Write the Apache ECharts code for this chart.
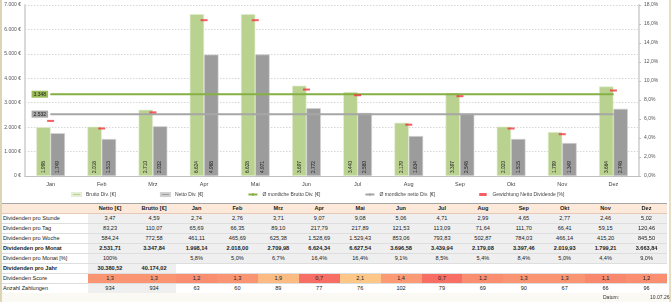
<!DOCTYPE html>
<html>
<head>
<meta charset="utf-8">
<script src="https://cdn.jsdelivr.net/npm/echarts@6/dist/echarts.min.js"></script>
<style>
  html, body { margin: 0; padding: 0; background: #fff; }
  body { width: 671px; height: 302px; position: relative; overflow: hidden; font-family: "Liberation Sans", Arial, sans-serif; }
  #chart { position: absolute; left: 0; top: 0; width: 671px; height: 200px; }
  #frameL { position: absolute; left: 0; top: 0; width: 2px; height: 302px; background: #ddd5b5; }
  #frameR { position: absolute; right: 0; top: 0; width: 2px; height: 302px; background: #e6dfc6; }
  table { position: absolute; left: 2px; top: 203px; width: 665px; border-collapse: collapse; table-layout: fixed; font-size: 5.6px; color: #222; }
  td { padding: 0; height: 9px; line-height: 9px; text-align: center; border-bottom: 1px solid #dedede; white-space: nowrap; overflow: hidden; }
  td.lbl { text-align: left; padding-left: 1px; background: #fff; }
  td.g { background: #efefef; }
  tr.head td { background: #fde9d9; font-weight: bold; border-top: 1.5px solid #a6a6a6; border-bottom: 1px solid #e8c8b8; }
  tr.bold td { font-weight: bold; }
  tr.score td { border-top: 1.5px solid #8c8c8c; }
  tr.last td { border-bottom: 1.5px solid #a6a6a6; }
  #foot { position: absolute; left: 2px; top: 293px; width: 665px; height: 9px; background: #faf9f3; font-size: 5px; color: #333; }
  #foot span { position: absolute; top: 1px; }
</style>
</head>
<body>
<div id="chart"></div>
<div id="frameL"></div>
<div id="frameR"></div>
<table id="tbl"></table>
<div id="foot"><span style="left:601px">Datum:</span><span style="left:648px">10.07.26</span></div>
<script>
const months = ['Jan', 'Feb', 'Mrz', 'Apr', 'Mai', 'Jun', 'Jul', 'Aug', 'Sep', 'Okt', 'Nov', 'Dez'];
const brutto = [1998, 2018, 2710, 6624, 6628, 3697, 3440, 2179, 3397, 2020, 1799, 3664];
const netto = [1749, 1513, 2032, 4968, 4971, 2772, 2580, 1634, 2548, 1515, 1349, 2748];
const avgBrutto = [3348, 3348, 3348, 3348, 3348, 3348, 3348, 3348, 3348, 3348, 3348, 3348];
const avgNetto = [2532, 2532, 2532, 2532, 2532, 2532, 2532, 2532, 2532, 2532, 2532, 2532];
const weight = [5.8, 5.0, 6.7, 16.4, 16.4, 9.1, 8.5, 5.4, 8.4, 5.0, 4.4, 9.0];

// table rows: Netto, Brutto, then Jan..Dez
const tableHead = ['Netto [€]', 'Brutto [€]'].concat(months);
const perHour = [3.47, 4.59, 2.74, 2.76, 3.71, 9.07, 9.08, 5.06, 4.71, 2.99, 4.65, 2.77, 2.46, 5.02];
const perDay = [83.23, 110.07, 65.69, 66.35, 89.10, 217.79, 217.89, 121.53, 113.09, 71.64, 111.70, 66.41, 59.15, 120.46];
const perWeek = [584.24, 772.58, 461.11, 465.69, 625.38, 1528.69, 1529.43, 853.06, 793.83, 502.87, 784.03, 466.14, 415.20, 845.50];
const perMonth = [2531.71, 3347.84, 1998.14, 2018.00, 2709.98, 6624.34, 6627.54, 3696.58, 3439.94, 2179.08, 3397.46, 2019.93, 1799.21, 3663.84];
const perYear = [30380.52, 40174.02];
const score = [1.3, 1.3, 1.2, 1.3, 1.9, 0.7, 2.1, 1.4, 0.7, 1.2, 1.3, 1.3, 1.1, 1.2];
const payments = [934, 934, 63, 60, 89, 77, 76, 102, 79, 69, 90, 67, 66, 96];

function de(v, dec) {
  const parts = v.toFixed(dec).split('.');
  parts[0] = parts[0].replace(/\B(?=(\d{3})+(?!\d))/g, '.');
  return parts.join(',');
}

const chart = echarts.init(document.getElementById('chart'));
const font = '"Liberation Sans", Arial, sans-serif';
const avgLabel = (bg) => ({
  show: true, position: 'left', distance: 2,
  backgroundColor: bg, padding: [1, 2], fontSize: 5, color: '#222', fontFamily: font,
  formatter: p => de(p.value, 0)
});
const barLabel = {
  show: true, position: 'insideBottom', rotate: 90, align: 'left', verticalAlign: 'middle',
  distance: 3, fontSize: 4.8, color: '#222', fontFamily: font,
  formatter: p => de(p.value, 0)
};

chart.setOption({
  animation: false,
  textStyle: { fontFamily: font },
  grid: { left: 25, right: 32, top: 5, bottom: 24 },
  legend: {
    left: 66, top: 187, itemGap: 44, itemWidth: 9, itemHeight: 3,
    textStyle: { fontSize: 5, color: '#444' },
    data: [
      { name: 'Brutto Div. [€]', icon: 'rect' },
      { name: 'Netto Div. [€]', icon: 'rect' },
      { name: 'Ø montliche Brutto Div. [€]' },
      { name: 'Ø montliche netto Div. [€]' },
      { name: 'Gewichtung Netto Dividende [%]', icon: 'path://M0,0H5V2H0Z' }
    ]
  },
  xAxis: {
    type: 'category', data: months,
    axisLine: { lineStyle: { color: '#bfbfbf', width: 1 } },
    axisTick: { length: 3, lineStyle: { color: '#bfbfbf' } },
    axisLabel: { fontSize: 5.5, color: '#444', margin: 5 }
  },
  yAxis: [
    {
      type: 'value', min: 0, max: 7000, interval: 1000,
      axisLine: { show: true, lineStyle: { color: '#d9d9d9', width: 2 } },
      axisLabel: { fontSize: 5, color: '#555', margin: 4, formatter: v => de(v, 0) + ' €' },
      splitLine: { lineStyle: { color: '#d6d6d6', type: [1.5, 1.5] } }
    },
    {
      type: 'value', min: 0, max: 18, interval: 2,
      axisLine: { show: true, lineStyle: { color: '#d9d9d9', width: 2 } },
      axisTick: { show: true, length: 2, lineStyle: { color: '#bfbfbf' } },
      axisLabel: { fontSize: 5, color: '#555', margin: 5, formatter: v => de(v, 1) + '%' },
      splitLine: { show: false }
    }
  ],
  series: [
    {
      name: 'Brutto Div. [€]', type: 'bar', data: brutto, barWidth: '28%', barGap: '0%',
      itemStyle: { color: '#bad290', borderColor: '#e4eed4', borderWidth: 0.6 },
      label: barLabel
    },
    {
      name: 'Netto Div. [€]', type: 'bar', data: netto, barWidth: '28%',
      itemStyle: { color: '#9c9c9c', borderColor: '#d0d0d0', borderWidth: 0.6 },
      label: barLabel
    },
    {
      name: 'Ø montliche Brutto Div. [€]', type: 'line', symbol: 'circle', symbolSize: 1, showAllSymbol: true, z: 5,
      lineStyle: { color: '#86b044', width: 2 }, itemStyle: { color: '#86b044' },
      data: avgBrutto.map((v, i) => i === 0 ? { value: v, label: avgLabel('#9bbb59') } : v)
    },
    {
      name: 'Ø montliche netto Div. [€]', type: 'line', symbol: 'circle', symbolSize: 1, showAllSymbol: true, z: 5,
      lineStyle: { color: '#a6a6a6', width: 2 }, itemStyle: { color: '#a6a6a6' },
      data: avgNetto.map((v, i) => i === 0 ? { value: v, label: avgLabel('#a6a6a6') } : v)
    },
    {
      name: 'Gewichtung Netto Dividende [%]', type: 'scatter', yAxisIndex: 1, z: 6,
      symbol: 'rect', symbolSize: [7, 2], itemStyle: { color: '#f0343c' },
      data: weight
    }
  ]
});

// table
function scoreColor(v) {
  const lo = [246, 110, 100], hi = [253, 200, 135];
  const t = Math.max(0, Math.min(1, (v - 0.7) / 1.4));
  return 'rgb(' + lo.map((c, i) => Math.round(c + (hi[i] - c) * t)).join(',') + ')';
}
const colW = [86, 44, 44].concat(months.map(() => 40.9));
let html = '<colgroup>' + colW.map(w => '<col style="width:' + w + 'px">').join('') + '</colgroup>';
html += '<tr class="head"><td class="lbl"></td>' + tableHead.map(h => '<td>' + h + '</td>').join('') + '</tr>';
function row(label, vals, cls, cellCls) {
  return '<tr class="' + (cls || '') + '"><td class="lbl">' + label + '</td>' +
    vals.map((v, i) => '<td class="' + (cellCls ? cellCls(i, v) : 'g') + '">' + v + '</td>').join('') + '</tr>';
}
html += row('Dividenden pro Stunde', perHour.map(v => de(v, 2)));
html += row('Dividenden pro Tag', perDay.map(v => de(v, 2)));
html += row('Dividenden pro Woche', perWeek.map(v => de(v, 2)));
html += row('Dividenden pro Monat', perMonth.map(v => de(v, 2)), 'bold');
html += row('Dividenden pro Monat [%]', ['100%', ''].concat(weight.map(v => de(v, 1) + '%')));
html += row('Dividenden pro Jahr', perYear.map(v => de(v, 2)).concat(months.map(() => '')), 'bold', i => i < 2 ? 'g' : '');
html += '<tr class="score"><td class="lbl">Dividenden Score</td>' +
  score.map(v => '<td style="background:' + scoreColor(v) + '">' + de(v, 1) + '</td>').join('') + '</tr>';
html += row('Anzahl Zahlungen', payments.map(String), 'last', i => i < 2 ? 'g' : '');
document.getElementById('tbl').innerHTML = html;
</script>
</body>
</html>
